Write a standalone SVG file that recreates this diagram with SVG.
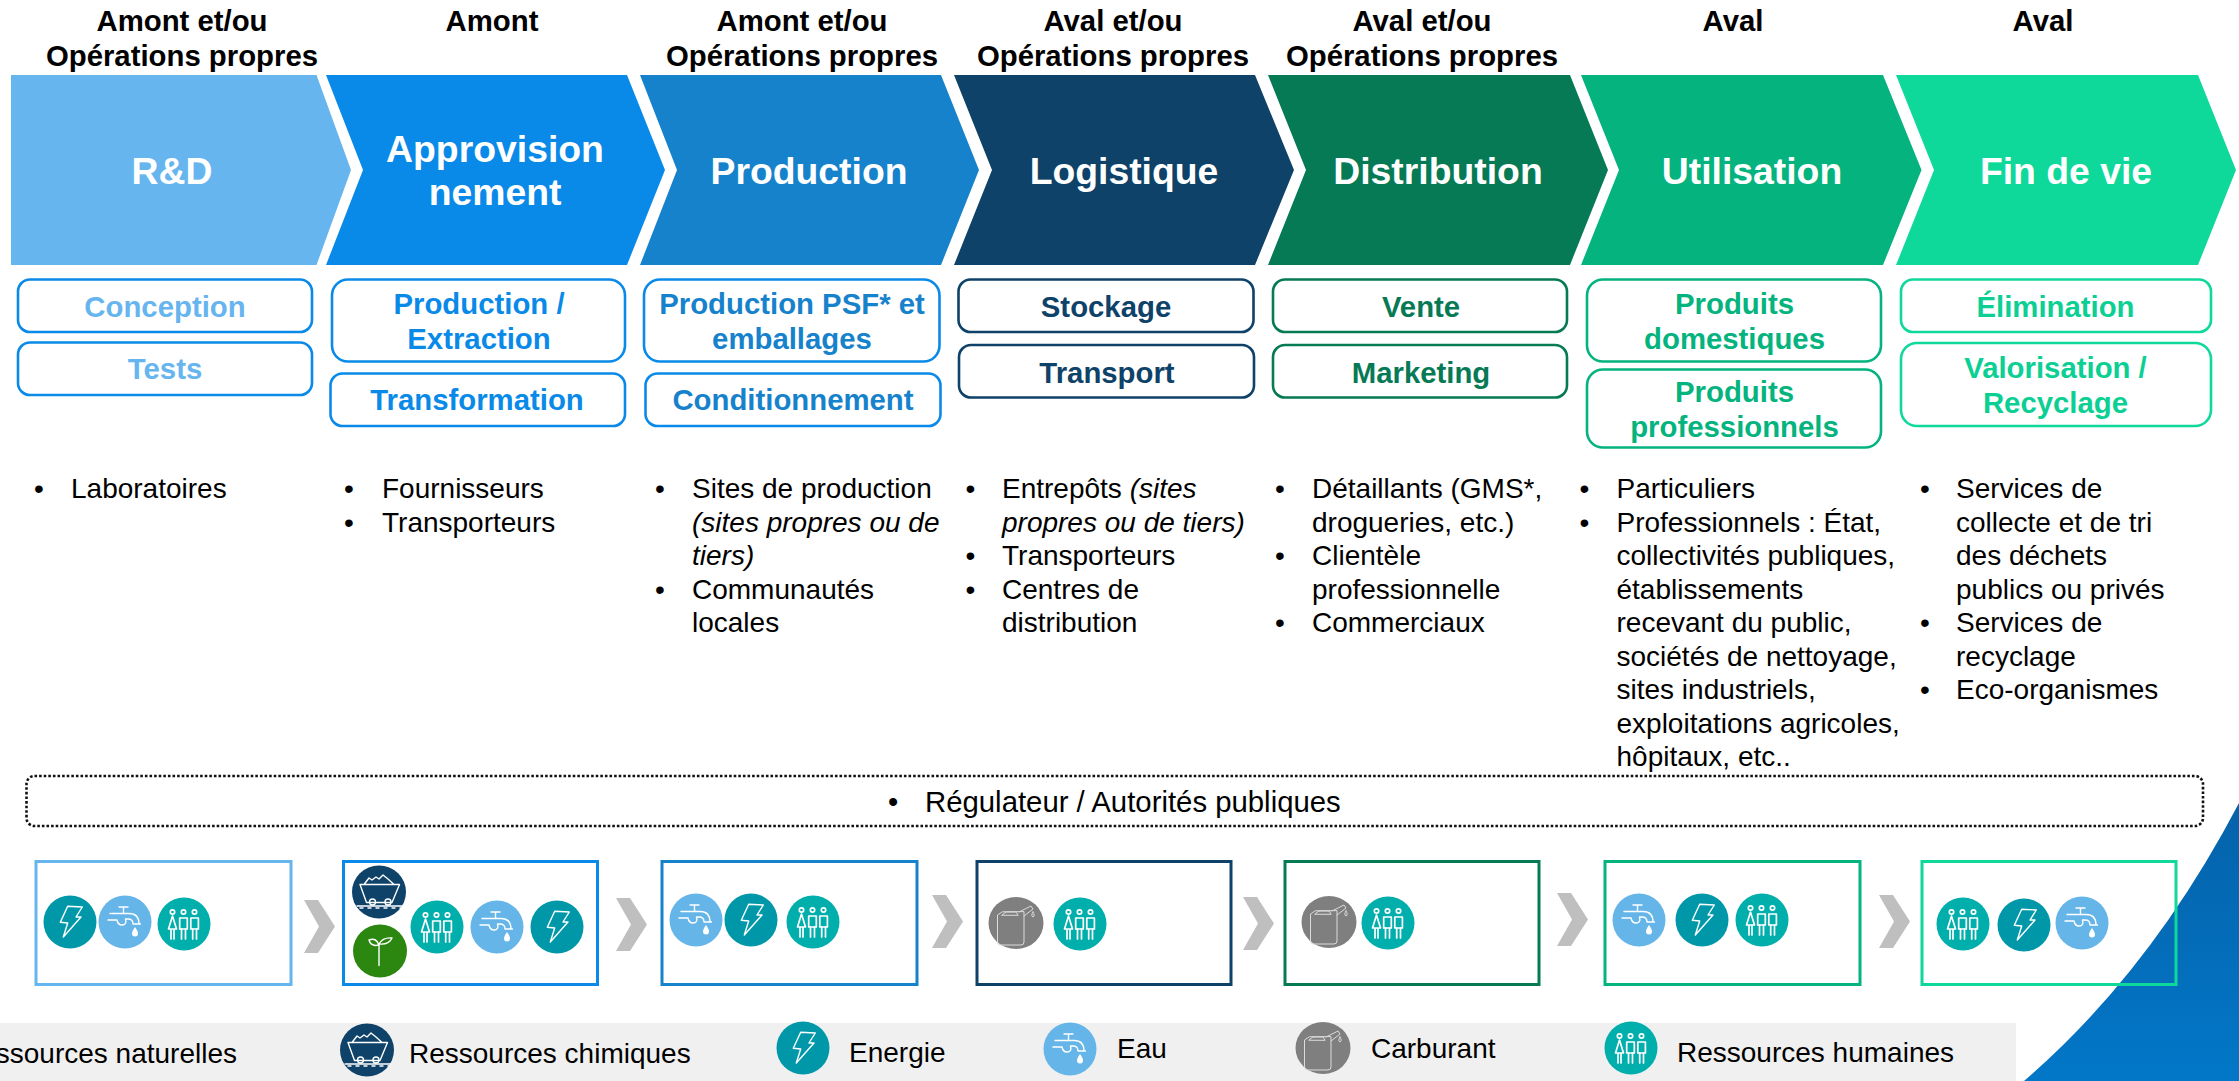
<svg xmlns="http://www.w3.org/2000/svg" xmlns:xlink="http://www.w3.org/1999/xlink" width="2239" height="1081" viewBox="0 0 2239 1081">
<style>
text{font-family:"Liberation Sans",Arial,sans-serif}
.h{font-size:29.33px;font-weight:700;fill:#000;text-anchor:middle}
.t{font-size:37.33px;font-weight:700;fill:#fff;text-anchor:middle}
.s{font-size:29.33px;font-weight:700;text-anchor:middle}
.b{font-size:28px;fill:#000}
.l{font-size:28px;fill:#000}
.i{font-style:italic}
.r{fill:#fff;stroke-width:2.6}
.f{fill:none;stroke-width:3}
.g{fill:none;stroke:#fff;stroke-width:1.4;stroke-linejoin:round;stroke-linecap:round}
.p{fill:none;stroke:#fff;stroke-width:1.7;stroke-linejoin:round;stroke-linecap:round}
.c{fill:none;stroke:#dcdcdc;stroke-width:1;stroke-linejoin:round;stroke-linecap:round}
.w{fill:#fff}
</style>
<defs>
<linearGradient id="blue" x1="0" y1="0" x2="0" y2="1"><stop offset="0" stop-color="#0562aa"/><stop offset="1" stop-color="#0277c8"/></linearGradient>
<polygon id="arrow" points="0,0 14,0 31,26.500 14,53 0,53 15,26.500" fill="#bfbfbf"/>
<g id="energy"><ellipse rx="26.500" ry="26.500" fill="#0098a9"/><path class="g" d="M-2.300,-15.700 L12.300,-15 L6,-5 L11,-5 L-6.700,15 L-2.300,1 L-9.700,.3 Z"/></g>
<g id="water"><ellipse rx="26.500" ry="26.500" fill="#66b5e8"/><path class="g" d="M-6,-15 H3 M-1.500,-15 V-8.500 M-15,-8.500 H4 Q14,-8.500 14,2 M8,2 H15.500 M8,2 Q8,-3 3,-3 H0.500 Q2,3 -3,3 Q-7,3 -8,-2 H-17"/><path class="w" d="M10,5 C8,8 7,10 7,11.500 A3,3 0 0 0 13,11.500 C13,10 12,8 10,5 Z"/></g>
<g id="people"><ellipse rx="26.500" ry="26.500" fill="#00aeac"/><g class="p"><circle cx="-11.500" cy="-12" r="2.200"/><circle cx="-.5" cy="-12" r="2.200"/><circle cx="10.500" cy="-12" r="2.200"/><path d="M-11.500,-8 L-15.500,5 H-7.500 Z M-13,5 V15 M-10,5 V15"/><rect x="-4.300" y="-6" width="7.600" height="11"/><path d="M-2.500,5 V15 M1.500,5 V15"/><rect x="6.800" y="-6" width="7.600" height="11"/><path d="M8.700,5 V15 M12.500,5 V15"/></g></g>
<g id="fuel"><ellipse rx="27.500" ry="26" fill="#7f7f7f"/><g class="c"><path d="M-14,-11 L-18.500,-8 V19 Q-18.500,22 -15.500,22 H5 Q8,22 8,19 V-11 Z M-14,-8 L-10,-11 H0 L2,-8 Z M3,-11 L15,-17 L17,-14 L8,-7"/><path d="M17,-11 Q14.500,-7 17,-6 Q19.500,-7 17,-11 Z"/></g></g>
<g id="mine"><ellipse rx="27" ry="26.500" fill="#0e4268"/><path class="g" d="M-15,-7.500 L-10,-14 L-7,-12 L-3,-15 L0,-13 L4,-17 L9,-13 L15,-7.500 M-19,-7.500 H20.500 L13,10.500 H-12.500 Z"/><circle class="g" cx="-6.500" cy="10" r="3"/><circle class="g" cx="9" cy="10" r="3"/><path class="g" d="M-22,14 H23.500"/><path class="g" stroke-dasharray="3 5" d="M-19,16 H23"/></g>
<g id="plant"><ellipse rx="27" ry="26.500" fill="#2b870f"/><path class="g" d="M-1,-6 V14.500 M-1,-6 Q-4,-14 -11,-11 Q-9,-4 -1,-6 Z M-1,-7 Q3,-14 12,-13 Q9,-6 -1,-7 Z"/></g>
</defs>

<rect width="2239" height="1081" fill="#fff"/>
<path id="corner" d="M2239,803 Q2150.500,972 2024,1081 H2239 Z" fill="url(#blue)"/>
<rect id="legend-band" x="0" y="1023" width="2016" height="58" fill="#f0f0f0"/>

<g id="connectors">
<use xlink:href="#arrow" href="#arrow" x="304" y="900"/>
<use xlink:href="#arrow" href="#arrow" x="616" y="898"/>
<use xlink:href="#arrow" href="#arrow" x="932" y="895"/>
<use xlink:href="#arrow" href="#arrow" x="1243" y="897"/>
<use xlink:href="#arrow" href="#arrow" x="1557" y="893"/>
<use xlink:href="#arrow" href="#arrow" x="1879" y="895"/>
</g>

<g id="col-rd">
<text class="h" x="182" y="31">Amont et/ou</text><text class="h" x="182" y="66">Opérations propres</text>
<polygon points="11,75 316.500,75 351,170 316.500,265 11,265" fill="#66b5ee"/>
<text class="t" x="172" y="184">R&amp;D</text>
<rect class="r" x="18" y="279.500" width="294" height="52.500" rx="12" stroke="#0a8ae8"/><text class="s" x="165" y="317" fill="#66b5ee">Conception</text>
<rect class="r" x="18" y="342.500" width="294" height="52.500" rx="12" stroke="#0a8ae8"/><text class="s" x="165" y="379" fill="#66b5ee">Tests</text>
<text class="b" x="34" y="498">•</text><text class="b" x="71" y="498">Laboratoires</text>
</g>

<g id="col-appro">
<text class="h" x="492" y="31">Amont</text>
<polygon points="326,75 627,75 665,170 627,265 326,265 363,170" fill="#0a8ae8"/>
<text class="t" x="495" y="162">Approvision</text><text class="t" x="495" y="205">nement</text>
<rect class="r" x="332" y="279.500" width="293" height="82" rx="16" stroke="#0a8ae8"/><text class="s" x="479" y="314" fill="#0a8ae8">Production /</text><text class="s" x="479" y="349" fill="#0a8ae8">Extraction</text>
<rect class="r" x="330.500" y="373.500" width="294.500" height="52.500" rx="12" stroke="#0a8ae8"/><text class="s" x="477" y="410" fill="#0a8ae8">Transformation</text>
<text class="b" x="344" y="498">•</text><text class="b" x="382" y="498">Fournisseurs</text>
<text class="b" x="344" y="531.500">•</text><text class="b" x="382" y="531.500">Transporteurs</text>
</g>

<g id="col-production">
<text class="h" x="802" y="31">Amont et/ou</text><text class="h" x="802" y="66">Opérations propres</text>
<polygon points="640,75 941,75 979,170 941,265 640,265 677,170" fill="#1782cc"/>
<text class="t" x="809" y="184">Production</text>
<rect class="r" x="644" y="279.500" width="295.500" height="82" rx="16" stroke="#0a8ae8"/><text class="s" x="792" y="314" fill="#1782cc">Production PSF* et</text><text class="s" x="792" y="349" fill="#1782cc">emballages</text>
<rect class="r" x="645.500" y="373.500" width="295" height="52.500" rx="12" stroke="#0a8ae8"/><text class="s" x="793" y="410" fill="#1782cc">Conditionnement</text>
<text class="b" x="655" y="498">•</text><text class="b" x="692" y="498">Sites de production</text>
<text class="b i" x="692" y="531.500">(sites propres ou de</text>
<text class="b i" x="692" y="565">tiers)</text>
<text class="b" x="655" y="598.500">•</text><text class="b" x="692" y="598.500">Communautés</text>
<text class="b" x="692" y="632">locales</text>
</g>

<g id="col-logistique">
<text class="h" x="1113" y="31">Aval et/ou</text><text class="h" x="1113" y="66">Opérations propres</text>
<polygon points="954,75 1255,75 1294,170 1255,265 954,265 992,170" fill="#0e4268"/>
<text class="t" x="1124" y="184">Logistique</text>
<rect class="r" x="958.500" y="279.500" width="295" height="52.500" rx="12" stroke="#0e4268"/><text class="s" x="1106" y="317" fill="#0e4268">Stockage</text>
<rect class="r" x="959" y="345" width="295" height="52.500" rx="12" stroke="#0e4268"/><text class="s" x="1107" y="383" fill="#0e4268">Transport</text>
<text class="b" x="965.500" y="498">•</text><text class="b" x="1002" y="498">Entrepôts <tspan class="i">(sites</tspan></text>
<text class="b i" x="1002" y="531.500">propres ou de tiers)</text>
<text class="b" x="965.500" y="565">•</text><text class="b" x="1002" y="565">Transporteurs</text>
<text class="b" x="965.500" y="598.500">•</text><text class="b" x="1002" y="598.500">Centres de</text>
<text class="b" x="1002" y="632">distribution</text>
</g>

<g id="col-distribution">
<text class="h" x="1422" y="31">Aval et/ou</text><text class="h" x="1422" y="66">Opérations propres</text>
<polygon points="1268,75 1570,75 1608,170 1570,265 1268,265 1306,170" fill="#067a55"/>
<text class="t" x="1438" y="184">Distribution</text>
<rect class="r" x="1273" y="279.500" width="294" height="52.500" rx="12" stroke="#067a55"/><text class="s" x="1421" y="317" fill="#067a55">Vente</text>
<rect class="r" x="1273" y="345" width="294" height="52.500" rx="12" stroke="#067a55"/><text class="s" x="1421" y="383" fill="#067a55">Marketing</text>
<text class="b" x="1275" y="498">•</text><text class="b" x="1312" y="498">Détaillants (GMS*,</text>
<text class="b" x="1312" y="531.500">drogueries, etc.)</text>
<text class="b" x="1275" y="565">•</text><text class="b" x="1312" y="565">Clientèle</text>
<text class="b" x="1312" y="598.500">professionnelle</text>
<text class="b" x="1275" y="632">•</text><text class="b" x="1312" y="632">Commerciaux</text>
</g>

<g id="col-utilisation">
<text class="h" x="1733" y="31">Aval</text>
<polygon points="1581,75 1883,75 1921.500,170 1883,265 1581,265 1619,170" fill="#04b37e"/>
<text class="t" x="1752" y="184">Utilisation</text>
<rect class="r" x="1587" y="279.500" width="294" height="82" rx="16" stroke="#04b37e"/><text class="s" x="1734.500" y="314" fill="#04b37e">Produits</text><text class="s" x="1734.500" y="349" fill="#04b37e">domestiques</text>
<rect class="r" x="1587" y="369.500" width="294" height="78" rx="16" stroke="#04b37e"/><text class="s" x="1734.500" y="402" fill="#04b37e">Produits</text><text class="s" x="1734.500" y="437" fill="#04b37e">professionnels</text>
<text class="b" x="1579.500" y="498">•</text><text class="b" x="1616.500" y="498">Particuliers</text>
<text class="b" x="1579.500" y="531.500">•</text><text class="b" x="1616.500" y="531.500">Professionnels : État,</text>
<text class="b" x="1616.500" y="565">collectivités publiques,</text>
<text class="b" x="1616.500" y="598.500">établissements</text>
<text class="b" x="1616.500" y="632">recevant du public,</text>
<text class="b" x="1616.500" y="665.500">sociétés de nettoyage,</text>
<text class="b" x="1616.500" y="699">sites industriels,</text>
<text class="b" x="1616.500" y="732.500">exploitations agricoles,</text>
<text class="b" x="1616.500" y="766">hôpitaux, etc..</text>
</g>

<g id="col-findevie">
<text class="h" x="2043" y="31">Aval</text>
<polygon points="1896,75 2198,75 2236,170 2198,265 1896,265 1934,170" fill="#0fd89b"/>
<text class="t" x="2066" y="184">Fin de vie</text>
<rect class="r" x="1901" y="279.500" width="310" height="52.500" rx="12" stroke="#0fd89b"/><text class="s" x="2055.500" y="317" fill="#0ccf94">Élimination</text>
<rect class="r" x="1901" y="343" width="310" height="83" rx="16" stroke="#0fd89b"/><text class="s" x="2055.500" y="378" fill="#0ccf94">Valorisation /</text><text class="s" x="2055.500" y="413" fill="#0ccf94">Recyclage</text>
<text class="b" x="1920" y="498">•</text><text class="b" x="1956" y="498">Services de</text>
<text class="b" x="1956" y="531.500">collecte et de tri</text>
<text class="b" x="1956" y="565">des déchets</text>
<text class="b" x="1956" y="598.500">publics ou privés</text>
<text class="b" x="1920" y="632">•</text><text class="b" x="1956" y="632">Services de</text>
<text class="b" x="1956" y="665.500">recyclage</text>
<text class="b" x="1920" y="699">•</text><text class="b" x="1956" y="699">Eco-organismes</text>
</g>

<g id="regulateur">
<rect x="26.500" y="776" width="2176.500" height="50" rx="8" fill="none" stroke="#111" stroke-width="2.600" stroke-dasharray="2.600 2"/>
<text class="b" x="888" y="812" style="font-size:29.33px">•</text><text class="b" x="925" y="812" style="font-size:29.33px">Régulateur / Autorités publiques</text>
</g>

<g id="res-1"><rect class="f" x="36" y="861.500" width="255" height="123" stroke="#66b5ee"/>
<use href="#energy" x="70" y="922"/><use href="#water" x="125" y="922"/><use href="#people" x="184" y="924"/></g>
<g id="res-2"><rect class="f" x="343.500" y="861.500" width="254" height="123" stroke="#0a8ae8"/>
<use href="#mine" x="379" y="892"/><use href="#plant" x="380" y="951"/><use href="#people" x="437" y="927"/><use href="#water" x="497" y="927"/><use href="#energy" x="557" y="927"/></g>
<g id="res-3"><rect class="f" x="662" y="861.500" width="255" height="123" stroke="#1782cc"/>
<use href="#water" x="696" y="920"/><use href="#energy" x="751" y="920"/><use href="#people" x="813" y="922"/></g>
<g id="res-4"><rect class="f" x="977" y="861.500" width="254" height="123" stroke="#0e4268"/>
<use href="#fuel" x="1016" y="923"/><use href="#people" x="1080" y="924"/></g>
<g id="res-5"><rect class="f" x="1285" y="861.500" width="254" height="123" stroke="#067a55"/>
<use href="#fuel" x="1329" y="922"/><use href="#people" x="1388" y="923"/></g>
<g id="res-6"><rect class="f" x="1605" y="861.500" width="255" height="123" stroke="#04b37e"/>
<use href="#water" x="1639" y="920"/><use href="#energy" x="1702" y="920"/><use href="#people" x="1762" y="920"/></g>
<g id="res-7"><rect class="f" x="1922" y="861.500" width="254" height="123" stroke="#0fd89b"/>
<use href="#people" x="1963" y="924"/><use href="#energy" x="2024" y="925"/><use href="#water" x="2082" y="923"/></g>

<g id="legend">
<text class="l" x="237" y="1063" text-anchor="end">Ressources naturelles</text>
<use href="#mine" x="367" y="1050"/><text class="l" x="409" y="1063">Ressources chimiques</text>
<use href="#energy" x="803" y="1048"/><text class="l" x="849" y="1062">Energie</text>
<use href="#water" x="1070" y="1049"/><text class="l" x="1117" y="1058">Eau</text>
<use href="#fuel" x="1323" y="1048"/><text class="l" x="1371" y="1058">Carburant</text>
<use href="#people" x="1631" y="1048"/><text class="l" x="1677" y="1062">Ressources humaines</text>
</g>
</svg>
